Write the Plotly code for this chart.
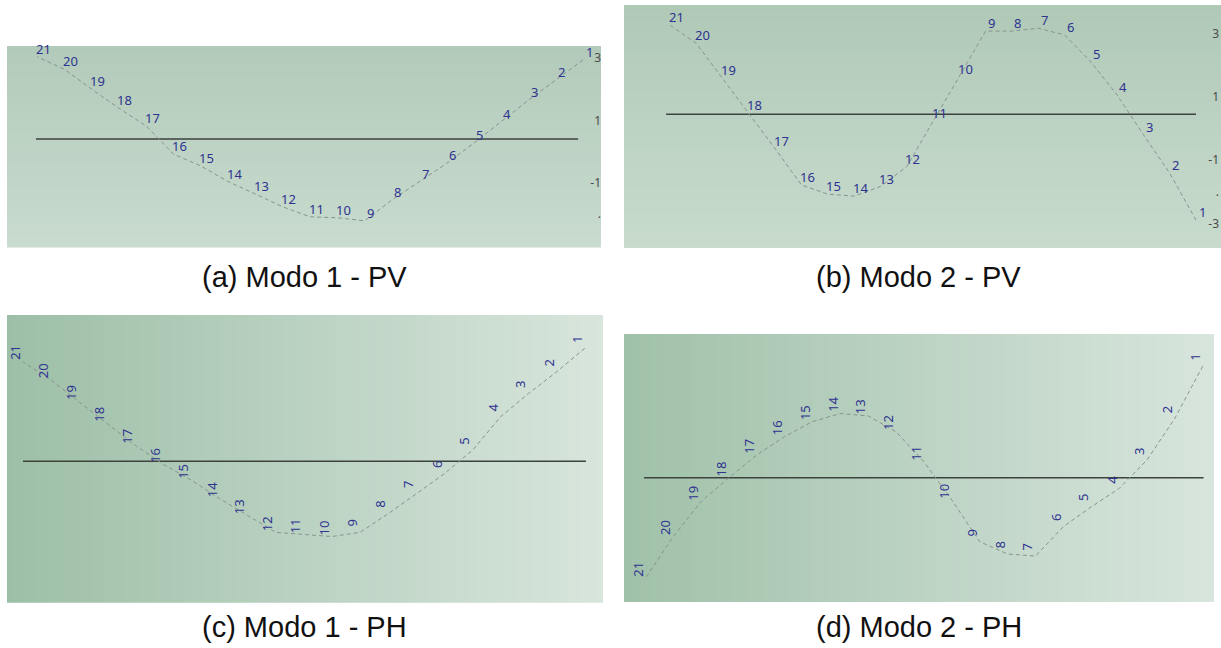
import plotly.graph_objects as go

W, H = 1221, 648

nodes = list(range(1, 22))
labels = [str(n) for n in nodes]

# Modal shapes (panel a/b in right-axis units, c/d relative to the reference line)
a_vals = [2.94, 2.29, 1.65, 0.96, 0.27, -0.38, -0.96, -1.55, -2.22, -2.12, -2.09,
          -1.77, -1.36, -0.96, -0.46, -0.08, 0.82, 1.39, 2.00, 2.64, 3.04]
b_vals = [-2.90, -1.42, -0.20, 1.05, 2.10, 2.95, 3.16, 3.07, 3.07, 1.63, 0.23,
          -1.21, -1.84, -2.14, -2.08, -1.79, -0.65, 0.47, 1.58, 2.68, 3.26]
c_vals = [3.76, 2.98, 2.26, 1.48, 0.37, -0.41, -1.08, -1.74, -2.36, -2.50, -2.43,
          -2.36, -1.80, -1.24, -0.63, -0.10, 0.53, 1.26, 1.98, 2.70, 3.31]
d_vals = [3.72, 1.98, 0.59, -0.36, -0.97, -1.63, -2.61, -2.54, -2.13, -0.74, 0.53,
          1.53, 2.06, 2.14, 1.87, 1.37, 0.76, 0.00, -0.80, -1.97, -3.36]

a_base, b_base, c_base, d_base = 0.40, 0.44, 0.0, 0.0
a_base_x = [21.04, 1.18]
b_base_x = [21.15, 1.0]
c_base_x = [21.0, 0.96]
d_base_x = [21.04, 0.97]

a_ticks = [3, 1, -1, -2]
a_ticktext = ["3", "1", "-1", "."]
b_ticks = [3, 1, -1, -2, -3]
b_ticktext = ["3", "1", "-1", ".", "-3"]

captions = ["(a) Modo 1 - PV", "(b) Modo 2 - PV", "(c) Modo 1 - PH", "(d) Modo 2 - PH"]

# panel pixel boxes: x0, x1, y0(top), y1(bottom)
boxes = {
    "a": (7, 601, 46, 247.5),
    "b": (624, 1221, 5, 248),
    "c": (7, 603, 315, 602.7),
    "d": (624, 1214, 334, 602),
}
xranges = {"a": [22.10, 0.341], "b": [22.75, 0.051], "c": [21.57, 0.352], "d": [21.76, 0.595]}
yranges = {"a": [-3.074, 3.385], "b": [-3.78, 3.894], "c": [-4.70, 4.867], "d": [-4.14, 4.79]}
grads = {
    "a": ("v", "#c9dccf", "#b2cab9"),
    "b": ("v", "#c8dbcd", "#b0c9b7"),
    "c": ("h", "#9dbfa7", "#d8e5dc"),
    "d": ("h", "#a0c1a9", "#d8e5dd"),
}
vals = {"a": a_vals, "b": b_vals, "c": c_vals, "d": d_vals}
bases = {"a": (a_base, a_base_x), "b": (b_base, b_base_x), "c": (c_base, c_base_x), "d": (d_base, d_base_x)}
rotated = {"a": False, "b": False, "c": True, "d": True}

LINE_GRAY = "#88948c"
LABEL_BLUE = "#2e3390"

fig = go.Figure()
annotations = []
layout = {}

for i, key in enumerate(["a", "b", "c", "d"]):
    suffix = "" if i == 0 else str(i + 1)
    xa, ya = "x" + suffix, "y" + suffix
    x0, x1, y0, y1 = boxes[key]
    xr, yr = xranges[key], yranges[key]
    kind, c0, c1 = grads[key]
    z = [[0, 0], [1, 1]] if kind == "v" else [[0, 1], [0, 1]]
    fig.add_trace(go.Heatmap(x=[xr[0], xr[1]], y=[yr[0], yr[1]], z=z,
                             colorscale=[[0, c0], [1, c1]], showscale=False, zsmooth="best",
                             hoverinfo="skip", xaxis=xa, yaxis=ya))
    base_y, base_x = bases[key]
    fig.add_trace(go.Scatter(x=base_x, y=[base_y, base_y], mode="lines",
                             line=dict(color="#3c423d", width=1.5), hoverinfo="skip",
                             xaxis=xa, yaxis=ya))
    fig.add_trace(go.Scatter(x=nodes, y=vals[key], mode="lines",
                             line=dict(color=LINE_GRAY, width=1, dash="4px,3px"),
                             hoverinfo="skip", xaxis=xa, yaxis=ya))
    for n, v, t in zip(nodes, vals[key], labels):
        if rotated[key]:
            annotations.append(dict(x=n, y=v, xref=xa, yref=ya, text=t, showarrow=False,
                                    textangle=-90, xshift=-8, yshift=9,
                                    font=dict(family="Noto Sans", size=13, color=LABEL_BLUE)))
        else:
            annotations.append(dict(x=n, y=v, xref=xa, yref=ya, text=t, showarrow=False,
                                    xshift=6, yshift=8,
                                    font=dict(family="Noto Sans", size=13, color=LABEL_BLUE)))
    xd = [x0 / W, x1 / W]
    yd = [1 - y1 / H, 1 - y0 / H]
    layout["xaxis" + suffix] = dict(domain=xd, range=xr, anchor=ya, visible=False, fixedrange=True)
    ydict = dict(domain=yd, range=yr, anchor=xa, showgrid=False, zeroline=False,
                 showline=False, ticks="", fixedrange=True)
    if key in ("a", "b"):
        ydict.update(side="right", ticklabelposition="inside",
                     ticklabelstandoff=-3 if key == "a" else -1,
                     tickvals=a_ticks if key == "a" else b_ticks,
                     ticktext=a_ticktext if key == "a" else b_ticktext,
                     tickfont=dict(family="Noto Sans", size=12, color="#4a4a4a"))
    else:
        ydict.update(visible=False)
    layout["yaxis" + suffix] = ydict

cap_pos = [(304, 277), (919, 277), (304, 627), (919, 627)]
for text, (cx, cy) in zip(captions, cap_pos):
    annotations.append(dict(x=cx / W, y=1 - cy / H, xref="paper", yref="paper", text=text,
                            showarrow=False, xanchor="center", yanchor="middle",
                            font=dict(family="Liberation Sans", size=29, color="#111111")))

fig.update_layout(width=W, height=H, margin=dict(l=0, r=0, t=0, b=0),
                  paper_bgcolor="white", plot_bgcolor="rgba(0,0,0,0)",
                  showlegend=False, annotations=annotations, **layout)

fig.write_html("out.html", config={"displayModeBar": False},
               post_script="document.body.style.margin='0';document.body.style.overflow='hidden';")
